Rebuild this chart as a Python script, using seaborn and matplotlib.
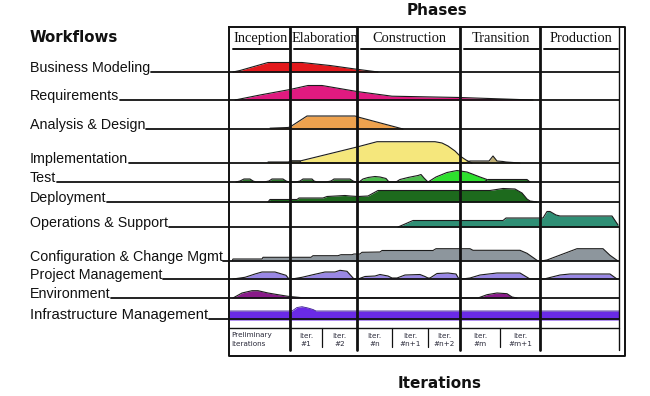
import numpy as np
import matplotlib
matplotlib.use("Agg")
import matplotlib.pyplot as plt
import seaborn as sns

# ---------------- data ----------------
PHASES = ["Inception", "Elaboration", "Construction", "Transition", "Production"]
PHASE_EDGES = [229, 290, 357, 460, 540, 619]          # timeline positions of phase boundaries
ITER_EDGES = [229, 290, 322, 357, 392, 428, 460, 500, 540, 619]
ITER_LABELS = ["Preliminary\nIterations", "Iter.\n#1", "Iter.\n#2", "Iter.\n#n",
               "Iter.\n#n+1", "Iter.\n#n+2", "Iter.\n#m", "Iter.\n#m+1", ""]

WORKFLOWS = ["Business Modeling", "Requirements", "Analysis & Design", "Implementation",
             "Test", "Deployment", "Operations & Support", "Configuration & Change Mgmt",
             "Project Management", "Environment", "Infrastructure Management"]
ROW_BASE = [72, 100, 129, 163, 182, 202, 227, 261, 279, 298, 320]

BM_X = [233, 240, 268, 302, 330, 355, 368, 378]
BM_H = [0, 1.5, 9.5, 9.5, 6.5, 3, 1.3, 0]

REQ_X = [235, 260, 290, 308, 322, 357, 392, 460, 533]
REQ_H = [0, 5, 10.5, 14.5, 14.5, 8.5, 3.8, 2.5, 0]

AD_X = [270, 288, 290, 307, 355, 358, 403]
AD_H = [0.8, 1.5, 2, 13, 13, 12, 0]

IMPL_X = [268, 289, 291, 300, 357, 377, 435, 442, 448, 455, 460, 466, 472]
IMPL_H = [1, 1, 2, 2, 16, 21.3, 21.3, 20, 17, 12, 7, 3, 0]
IMPL_TAN_X = [289, 290, 300, 301, 465, 470, 489, 493, 497, 503, 506, 520]
IMPL_TAN_H = [1, 2, 2, 0, 0, 2, 2, 7, 2, 1.5, 1, 0]

TEST_DARK_X = [236, 240, 244, 250, 253, 256, 264, 269, 272, 283, 286, 289,
               296, 300, 303, 312, 314, 317, 326, 331, 334, 350, 353, 356,
               484, 488, 527, 530]
TEST_DARK_H = [0, 1, 3, 3, 1, 0, 0, 1, 3, 3, 1, 0,
               0, 1, 3, 3, 1, 0, 0, 1, 3, 3, 1, 0,
               0, 2.5, 2.5, 0]
TEST_LIGHT_X = [359, 363, 368, 375, 380, 386, 389, 396, 400, 408, 418, 421, 424, 428]
TEST_LIGHT_H = [0, 3, 4.5, 5.5, 5, 3.5, 0, 0, 2.5, 4.5, 6.5, 7.5, 4, 0]
TEST_BRIGHT_X = [428, 436, 447, 457, 467, 480, 487]
TEST_BRIGHT_H = [0, 5, 9.5, 11.5, 10, 5, 2.5]

DEP_X = [268, 270, 297, 299, 323, 327, 345, 350, 358, 368, 378, 490, 503, 515, 522, 527, 530, 537]
DEP_H = [0, 2.5, 2.5, 4, 4, 5.5, 6.5, 6, 5.5, 6, 11.5, 11.5, 13.5, 13, 9, 3, 1, 0]

OPS_X = [398, 405, 413, 503, 506, 543, 547, 550, 556, 560, 612, 618]
OPS_H = [0, 3, 6.5, 6.5, 9, 9, 15.5, 15.5, 12, 11, 11, 2]

CFG_X = [232, 233, 262, 263, 311, 313, 338, 341, 352, 354, 360, 362, 380, 382,
         433, 436, 470, 473, 520, 527, 538, 541, 547, 577, 603, 610, 618]
CFG_H = [0, 2, 2, 3.7, 3.7, 5.3, 5.3, 6.3, 6.3, 7, 7, 8.7, 9, 10.5,
         10.5, 12.3, 12.3, 10.7, 10.7, 7.7, 0, 0, 1, 12.3, 12.3, 5.7, 0]

PM_X = [233, 245, 255, 262, 275, 286, 289, 292, 302, 313, 325, 335, 340, 347, 354,
        358, 365, 375, 380, 388, 392, 397, 405, 420, 425, 428,
        430, 437, 448, 456, 459, 462, 470, 480, 497, 520, 530,
        544, 552, 560, 570, 610, 617]
PM_H = [0, 1.7, 5, 7, 7, 3.7, 0, 0, 1.7, 4.3, 7, 7, 8.7, 7.7, 0,
        0, 2.5, 3, 4.5, 3, 1, 1, 4, 4.5, 2.5, 1,
        1, 5.5, 6, 5, 0, 0, 1, 4, 6, 6, 0,
        0, 2, 4, 5, 5, 0]

ENV_X = [233, 242, 252, 258, 268, 278, 288, 302, 478, 487, 497, 507, 512, 517]
ENV_H = [0, 5, 7.3, 7.3, 5, 3.3, 1.7, 0.3, 0, 3.3, 5, 4.3, 1, 0]

INF_X = [229, 292, 297, 302, 308, 313, 316, 619]
INF_H = [9, 9, 12.5, 13.3, 12, 10.5, 9, 9]

# ---------------- drawing ----------------
sns.set_theme(style="white")
plt.rcParams["font.family"] = ["DejaVu Sans"]

fig = plt.figure(figsize=(6.5, 3.96), dpi=100)
ax = fig.add_axes([0, 0, 1, 1])
ax.axis("off")

def hump(xs, hs, base, color, edge="#1c1c1c", lw=0.8):
    xs = np.asarray(xs, float)
    ys = base - np.asarray(hs, float)
    ax.fill_between(xs, base, ys, color=color, lw=0, zorder=2)
    sns.lineplot(x=xs, y=ys, ax=ax, color=edge, lw=lw, sort=False,
                 estimator=None, zorder=3, legend=False)

B = dict(zip(WORKFLOWS, ROW_BASE))
hump(BM_X, BM_H, B["Business Modeling"], "#e3191c")
hump(REQ_X, REQ_H, B["Requirements"], "#e01a80")
hump(AD_X, AD_H, B["Analysis & Design"], "#eea24e")
hump(IMPL_X, IMPL_H, B["Implementation"], "#f5e77c")
hump(IMPL_TAN_X, IMPL_TAN_H, B["Implementation"], "#bfae72")
hump(TEST_DARK_X, TEST_DARK_H, B["Test"], "#2f7d2f")
hump(TEST_LIGHT_X, TEST_LIGHT_H, B["Test"], "#4cbc4c")
hump(TEST_BRIGHT_X, TEST_BRIGHT_H, B["Test"], "#2ee02e")
hump(DEP_X, DEP_H, B["Deployment"], "#1d6a1d")
hump(OPS_X, OPS_H, B["Operations & Support"], "#2f8f75")
hump(CFG_X, CFG_H, B["Configuration & Change Mgmt"], "#8d969d")
hump(PM_X, PM_H, B["Project Management"], "#9a88e4")
hump(ENV_X, ENV_H, B["Environment"], "#8a1c8a")
hump(INF_X, INF_H, B["Infrastructure Management"], "#6a2ae6", edge="#3a1a90", lw=0.6)

K = "#111111"
x0, x_in, x_out = PHASE_EDGES[0], PHASE_EDGES[-1], 625
top, head, it_top, it_bot, bottom = 27, 49, 328, 350, 356

# outer frame
ax.plot([x0, x_out, x_out, x0, x0], [top, top, bottom, bottom, top], color=K, lw=1.4, zorder=5)
ax.plot([x_in, x_in], [top, it_bot], color=K, lw=1.0, zorder=5)
# phase dividers
for xe in PHASE_EDGES[1:-1]:
    ax.plot([xe, xe], [top, it_bot], color=K, lw=2.0, zorder=5)
# header underlines and labels
for i, name in enumerate(PHASES):
    a, b = PHASE_EDGES[i], PHASE_EDGES[i + 1]
    ax.plot([a + 4, b - 1], [head, head], color=K, lw=1.4, zorder=5)
    ax.text((a + b) / 2 + 1, 38.5, name, ha="center", va="center", fontsize=10.4,
            family="Liberation Serif", color=K, zorder=6)
# iteration row
ax.plot([x0, x_in], [it_top, it_top], color=K, lw=1.0, zorder=5)
for xe in ITER_EDGES[1:-1]:
    if xe not in PHASE_EDGES:
        ax.plot([xe, xe], [it_top, it_bot - 3], color=K, lw=0.9, zorder=5)
for i, lab in enumerate(ITER_LABELS):
    if not lab:
        continue
    a, b = ITER_EDGES[i], ITER_EDGES[i + 1]
    l1, l2 = lab.split("\n")
    if i == 0:
        ax.text(a + 2, 335.5, l1, ha="left", va="center", fontsize=5.2, color="#2a2a3a")
        ax.text(a + 2, 343.5, l2, ha="left", va="center", fontsize=5.2, color="#2a2a3a")
    else:
        ax.text((a + b) / 2, 335.5, l1, ha="center", va="center", fontsize=5.2, color="#2a2a3a")
        ax.text((a + b) / 2, 344, l2, ha="center", va="center", fontsize=5.2, color="#2a2a3a")

# titles
ax.text(437, 10.5, "Phases", ha="center", va="center", fontsize=11, fontweight="bold", color=K)
ax.text(440, 384, "Iterations", ha="center", va="center", fontsize=11, fontweight="bold", color=K)
ax.text(30, 37, "Workflows", ha="left", va="center", fontsize=10.8, fontweight="bold", color=K)

# workflow labels with leader lines
texts = []
for name, yb in zip(WORKFLOWS, ROW_BASE):
    yl = yb - 1.5 if name == "Infrastructure Management" else yb
    fs = 10.6 if name == "Infrastructure Management" else 10.3
    t = ax.text(30, yl, name, ha="left", va="baseline", fontsize=fs,
                family="Liberation Sans", color=K, zorder=6)
    texts.append((t, yl))

ax.set_xlim(0, 650)
ax.set_ylim(396, 0)
fig.canvas.draw()
r = fig.canvas.get_renderer()
inv = ax.transData.inverted()
for t, yl in texts:
    bb = t.get_window_extent(r)
    xe = inv.transform((bb.x1, bb.y0))[0]
    ax.plot([xe + 0.5, x_in], [yl, yl], color=K, lw=1.3, zorder=4)

ax.set_xlim(0, 650)
ax.set_ylim(396, 0)
fig.savefig("out.png", dpi=100, facecolor="white")
